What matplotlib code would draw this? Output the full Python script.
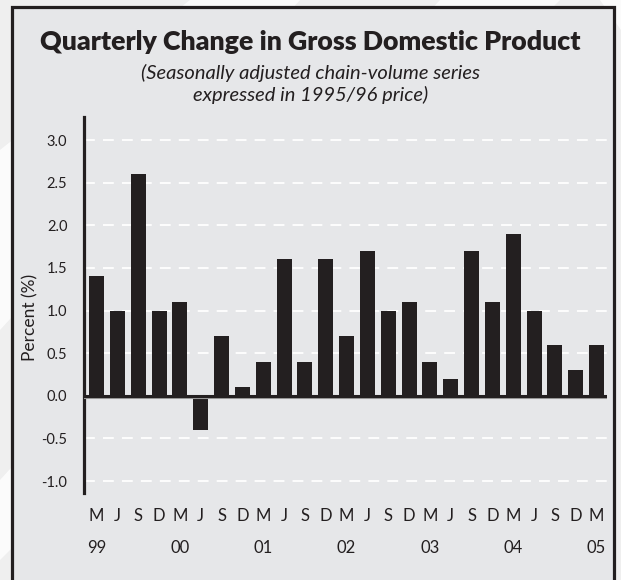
import matplotlib.pyplot as plt
import matplotlib.transforms as mtransforms
from matplotlib.patches import Rectangle, Polygon

# quarterly GDP change, Mar 1999 - Mar 2005
quarters = ['M', 'J', 'S', 'D'] * 6 + ['M']
years = ['99', '00', '01', '02', '03', '04', '05']
gdp_change = [1.4, 1.0, 2.6, 1.0, 1.1, -0.4, 0.7, 0.1, 0.4, 1.6, 0.4, 1.6,
              0.7, 1.7, 1.0, 1.1, 0.4, 0.2, 1.7, 1.1, 1.9, 1.0, 0.6, 0.3, 0.6]
yticks = [-1.0, -0.5, 0.0, 0.5, 1.0, 1.5, 2.0, 2.5, 3.0]

ink = '#231f20'
panel = '#e6e7e9'
font = 'Lato'

W, H = 621, 580
fig = plt.figure(figsize=(W / 100, H / 100), dpi=100)
fig.patch.set_facecolor('#efefef')

def px(x, y):
    return (x / W, 1 - y / H)

# faint white bands behind the panel
for pts in ([(190, 0), (300, 0), (0, 330), (0, 150)],
            [(440, 0), (560, 0), (0, 560), (0, 480)],
            [(600, 0), (621, 0), (621, 30)]):
    fig.patches.append(Polygon([px(*p) for p in pts], closed=True,
                               transform=fig.transFigure, facecolor='white',
                               edgecolor='none', alpha=0.8, zorder=0))

# framed panel
fig.patches.append(Rectangle(px(11.5, 600), 602 / W, 593.5 / H,
                             transform=fig.transFigure, facecolor=panel,
                             edgecolor=ink, linewidth=2.3, zorder=1))

fig.text(0.5, 1 - 42 / H, 'Quarterly Change in Gross Domestic Product',
         ha='center', va='center', fontsize=19.3, fontweight='heavy',
         family=font, color=ink)
fig.text(0.5, 1 - 84 / H,
         '(Seasonally adjusted chain-volume series\nexpressed in 1995/96 price)',
         ha='center', va='center', fontsize=14.5, style='italic',
         family=font, color=ink, linespacing=1.25)

ax = fig.add_axes([84 / W, 1 - 493 / H, (607 - 84) / W, (493 - 117) / H])
ax.set_facecolor('none')
ax.set_zorder(2)

x = list(range(len(gdp_change)))
ax.bar(x, gdp_change, width=0.72, color=ink, zorder=3)

for y in yticks:
    if y != 0:
        ax.axhline(y, color='white', lw=1.3, ls=(0, (6, 4.5)), zorder=1)

# zero line with a grey edge underneath
base_tf = mtransforms.blended_transform_factory(ax.transAxes, ax.transData)
shadow = mtransforms.offset_copy(base_tf, fig=fig, x=0, y=-1.5, units='points')
ax.plot([0, 1], [0, 0], color='#9a9a9a', lw=1.5, transform=shadow, zorder=3.5)
ax.axhline(0, color=ink, lw=2.2, zorder=4)

ax.set_xlim(-0.6, 24.5)
ax.set_ylim(-1.14, 3.27)

for side in ['top', 'right', 'bottom']:
    ax.spines[side].set_visible(False)
ax.spines['left'].set_linewidth(2.3)
ax.spines['left'].set_color(ink)

ax.set_yticks(yticks)
ax.set_yticklabels([f'{v:.1f}' for v in yticks], family=font, fontsize=10.5, color=ink)
ax.set_xticks(x)
ax.set_xticklabels(quarters, family=font, fontsize=12, color=ink)
ax.tick_params(axis='both', length=0)
ax.tick_params(axis='y', pad=12)
ax.tick_params(axis='x', pad=11)

ax.set_ylabel('Percent (%)', family=font, fontsize=12.5, color=ink)
ax.yaxis.set_label_coords(-0.088, 0.468)

year_tf = mtransforms.blended_transform_factory(ax.transData, ax.transAxes)
for i, yr in enumerate(years):
    ax.text(i * 4, -0.146, yr, transform=year_tf, ha='center', va='center',
            family=font, fontsize=12, color=ink)

fig.savefig('out.png', dpi=100, facecolor=fig.get_facecolor())
